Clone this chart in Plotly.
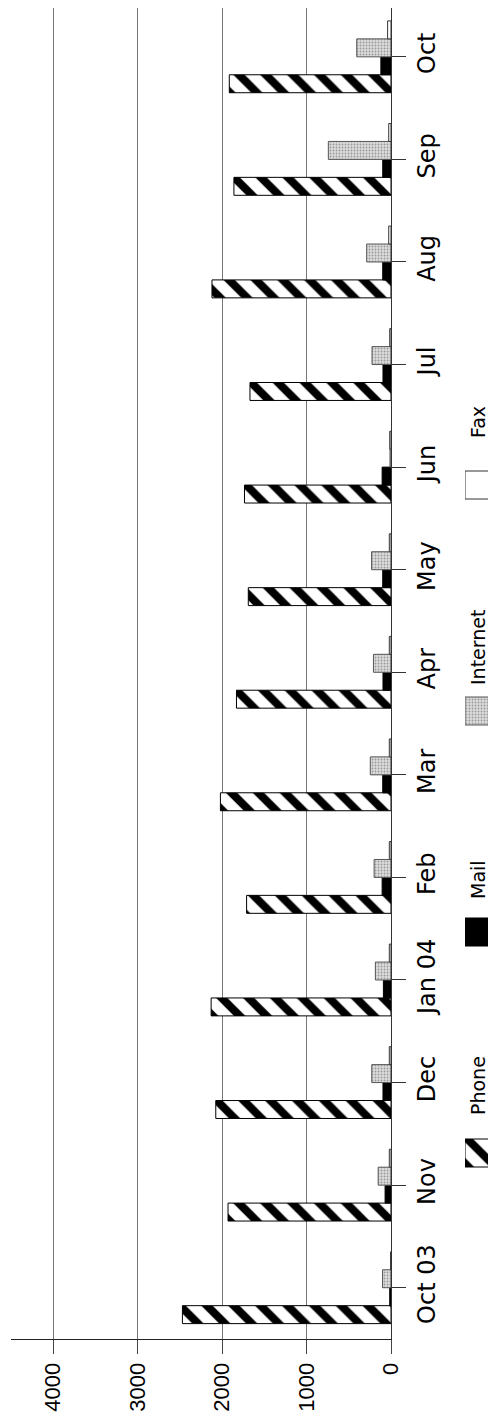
import plotly.graph_objects as go

categories = ["Oct 03", "Nov", "Dec", "Jan 04", "Feb", "Mar", "Apr",
              "May", "Jun", "Jul", "Aug", "Sep", "Oct"]
phone = [2470, 1930, 2075, 2130, 1710, 2020, 1830, 1690, 1735, 1670, 2120, 1860, 1915]
mail = [15, 70, 95, 90, 105, 98, 95, 98, 105, 95, 98, 98, 120]
internet = [100, 152, 228, 185, 200, 245, 208, 230, 12, 225, 288, 742, 406]
fax = [5, 20, 20, 20, 20, 20, 20, 20, 15, 15, 27, 27, 40]
value_ticks = [0, 1000, 2000, 3000, 4000]
series_names = ["Phone", "Mail", "Internet", "Fax"]

# ---- layout geometry (page pixels; the page body has an 8px margin) ----
OFF = 8
W, H = 496 - OFF, 1422 - OFF
L, T, R = 11 - OFF, 0, 0
plot_bottom = 1339 - OFF
B = H - plot_bottom
plot_w = W - L - R
plot_h = H - T - B
axis_x = 391 - OFF
dom_right = (axis_x - L) / plot_w
step = plot_h / 12.976
cat_top = -0.5 + plot_h / step

leg_x0, leg_x1 = 465 - OFF, 493 - OFF
leg_swatch_y = {"Phone": 1153, "Mail": 932, "Internet": 711, "Fax": 485}
leg_text_y = {"Phone": 1086, "Mail": 880, "Internet": 648, "Fax": 422}
leg_text_x = 478 - OFF

styles = {
    "Phone": dict(color="white",
                  pattern=dict(shape="\\", fgcolor="black", bgcolor="white",
                               size=19, solidity=0.42, fillmode="replace"),
                  line=dict(color="black", width=1)),
    "Mail": dict(color="black", line=dict(color="black", width=1)),
    "Internet": dict(color="#d6d6d6",
                     pattern=dict(shape=".", fgcolor="#999999", bgcolor="#dcdcdc",
                                  size=3, solidity=0.3, fillmode="replace"),
                     line=dict(color="#555555", width=1)),
    "Fax": dict(color="white", line=dict(color="#333333", width=1)),
}

values = {"Phone": phone, "Mail": mail, "Internet": internet, "Fax": fax}

fig = go.Figure()
for name in series_names:
    fig.add_trace(go.Bar(
        y=categories, x=values[name], orientation="h", name=name,
        marker=styles[name], showlegend=False, xaxis="x", yaxis="y",
    ))

# legend swatches on a helper axis pair (units = pixels from plot bottom)
for name in series_names:
    fig.add_trace(go.Bar(
        x=[1], y=[plot_bottom - (leg_swatch_y[name] - OFF)], base=0,
        width=28, offset=-14,
        orientation="h", marker=styles[name], showlegend=False,
        xaxis="x2", yaxis="y2", hoverinfo="skip",
    ))

annotations = []
for name in series_names:
    annotations.append(dict(
        text=name, textangle=-90, showarrow=False,
        xref="paper", yref="paper",
        x=(leg_text_x - L) / plot_w,
        y=(plot_bottom - (leg_text_y[name] - OFF)) / plot_h,
        xanchor="center", yanchor="middle",
        font=dict(family="DejaVu Sans", size=19, color="black"),
    ))

fig.update_layout(
    template="none",
    width=W, height=H,
    margin=dict(l=L, r=R, t=T, b=B, pad=0, autoexpand=False),
    paper_bgcolor="white", plot_bgcolor="white",
    barmode="group", bargap=0.3, bargroupgap=0,
    showlegend=False,
    annotations=annotations,
    xaxis=dict(
        domain=[0, dom_right], anchor="y", range=[4500, 0], automargin=False,
        tickmode="array", tickvals=value_ticks,
        ticktext=[str(v) for v in value_ticks],
        tickangle=-90, ticks="outside", ticklen=14, tickcolor="#444",
        tickfont=dict(family="Liberation Sans", size=22, color="black"),
        showgrid=True, gridcolor="#777", gridwidth=1,
        showline=True, linecolor="#222", linewidth=1,
        zeroline=False, fixedrange=True,
    ),
    yaxis=dict(
        type="category", anchor="x", side="right", range=[-0.5, cat_top],
        automargin=False,
        ticks="outside", ticklen=14, tickcolor="#333",
        tickangle=-90,
        tickfont=dict(family="DejaVu Sans", size=24, color="black"),
        showgrid=False, showline=True, linecolor="#333", linewidth=1,
        zeroline=False, fixedrange=True,
    ),
    xaxis2=dict(domain=[(leg_x0 - L) / plot_w, (leg_x1 - L) / plot_w],
                anchor="y2", range=[0, 1], visible=False, fixedrange=True,
                automargin=False),
    yaxis2=dict(domain=[0, 1], anchor="x2", range=[0, plot_h],
                visible=False, fixedrange=True, automargin=False),
)

fig.write_html("out.html")
